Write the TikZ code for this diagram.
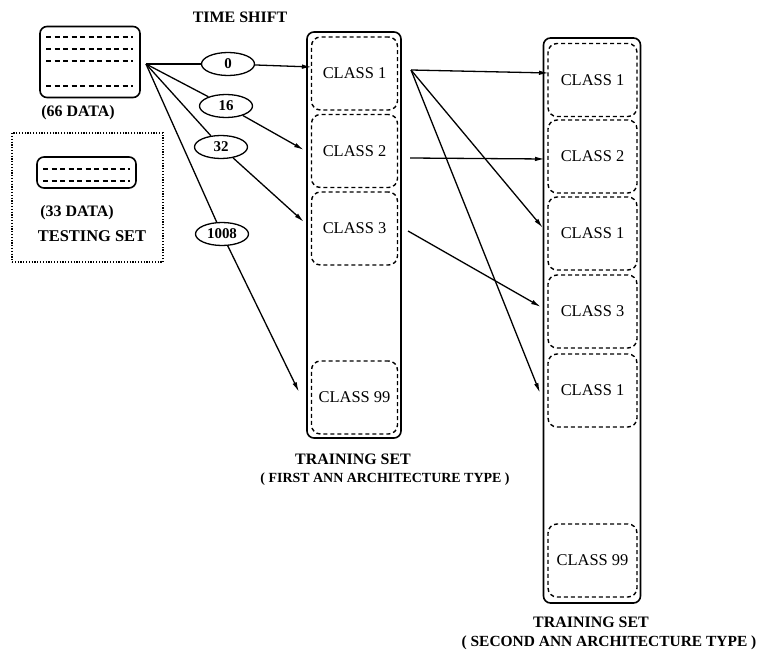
\documentclass[tikz,border=0pt]{standalone}
\usepackage{fontspec}
\setmainfont{Liberation Serif}
\usetikzlibrary{arrows.meta,shapes.geometric}
\begin{document}
\begin{tikzpicture}[x=1bp,y=-1bp,
  solidbox/.style={draw, line width=1.6bp, rounded corners=7bp, inner sep=0},
  classbox/.style={draw, dash pattern=on 4bp off 3bp, line width=1.4bp, rounded corners=9bp,
    minimum height=73bp, inner sep=0, font=\fontsize{16.5}{16.5}\selectfont},
  lclass/.style={classbox, minimum width=86bp},
  rclass/.style={classbox, minimum width=89bp},
  shiftlbl/.style={draw, ellipse, line width=1.3bp, minimum width=53bp, minimum height=23bp,
    inner sep=0, font=\bfseries\fontsize{15}{15}\selectfont},
  lbl/.style={font=\bfseries\fontsize{16}{16}\selectfont, inner sep=0},
  sublbl/.style={font=\bfseries\fontsize{14}{14}\selectfont, inner sep=0},
  conn/.style={line width=1.3bp},
  arr/.style={conn, -{Latex[length=10bp,width=4.5bp]}},
  rowline/.style={line width=1.7bp, dash pattern=on 5bp off 3.5bp},
  dotbox/.style={draw, line width=1.7bp, dash pattern=on 1.2bp off 1.6bp, inner sep=0}
]
\useasboundingbox (0,0) rectangle (763,658);

% title
\node[lbl] (title) at (240,17) {TIME SHIFT};

% data box
\node[solidbox, minimum width=100bp, minimum height=71bp] (data) at (90,62) {};
\foreach \yy/\nm in {37/a,49/b,61/c,86/d}{
  \coordinate (dl\nm) at (46,\yy); \coordinate (dr\nm) at (133,\yy);
  \draw[rowline] (dl\nm) -- (dr\nm);
}
\node[lbl] (d66) at (78,113) {(66 DATA)};

% testing set
\node[dotbox, minimum width=151bp, minimum height=129bp] (testframe) at (87.5,197.5) {};
\node[solidbox, minimum width=99bp, minimum height=31bp] (test) at (86.5,172.5) {};
\foreach \yy/\nm in {169/a,181/b}{
  \coordinate (tl\nm) at (43,\yy); \coordinate (tr\nm) at (130,\yy);
  \draw[rowline] (tl\nm) -- (tr\nm);
}
\node[lbl] (d33) at (77,213) {(33 DATA)};
\node[lbl, font=\bfseries\fontsize{16.5}{16.5}\selectfont] (tset) at (92,236) {TESTING SET};

% left training set
\node[solidbox, minimum width=94bp, minimum height=406bp] (L) at (354,235) {};
\node[lclass] (L1) at (354.5,73.5) {CLASS 1};
\node[lclass] (L2) at (354.5,151) {CLASS 2};
\node[lclass] (L3) at (354.5,228.5) {CLASS 3};
\node[lclass] (L99) at (354.5,397.5) {CLASS 99};
\node[lbl] (Ltr) at (353,459) {TRAINING SET};
\node[sublbl] (Lsub) at (385,479) {( FIRST ANN ARCHITECTURE TYPE )};

% right training set
\node[solidbox, minimum width=97bp, minimum height=565bp] (R) at (592,320.5) {};
\node[rclass] (R1) at (592.5,80) {CLASS 1};
\node[rclass] (R2) at (592.5,156.5) {CLASS 2};
\node[rclass] (R3) at (592.5,233.5) {CLASS 1};
\node[rclass] (R4) at (592.5,311.5) {CLASS 3};
\node[rclass] (R5) at (592.5,390.5) {CLASS 1};
\node[rclass] (R6) at (592.5,560.5) {CLASS 99};
\node[lbl] (Rtr) at (591,622) {TRAINING SET};
\node[font=\bfseries\fontsize{15.5}{15.5}\selectfont, inner sep=0] (Rsub) at (609,643) {( SECOND ANN ARCHITECTURE TYPE )};

% time shift ellipses
\coordinate (src) at (146,64);
\node[shiftlbl] (e0) at (228,64) {0};
\node[shiftlbl] (e16) at (226,106) {16};
\node[shiftlbl] (e32) at (221,147) {32};
\node[shiftlbl] (e1008) at (222,234) {1008};

\coordinate (t0) at (312,67);
\coordinate (t16) at (304,150);
\coordinate (t32) at (304,222);
\coordinate (t1008) at (299,392);

\foreach \e in {e0,e16,e32,e1008}{ \draw[conn] (src) -- (\e); }
\draw[arr] (e0) -- (t0);
\draw[arr] (e16) -- (t16);
\draw[arr] (e32) -- (t32);
\draw[arr] (e1008) -- (t1008);

% left -> right
\coordinate (s1) at (411,70);
\coordinate (s2) at (410,158);
\coordinate (s3) at (408,231);
\coordinate (u1) at (549,73);
\coordinate (u2) at (545,159);
\coordinate (u3) at (543,228);
\coordinate (u4) at (541,307);
\coordinate (u5) at (540,393);
\draw[arr] (s1) -- (u1);
\draw[arr] (s1) -- (u3);
\draw[arr] (s1) -- (u5);
\draw[arr] (s2) -- (u2);
\draw[arr] (s3) -- (u4);
\end{tikzpicture}
\end{document}
